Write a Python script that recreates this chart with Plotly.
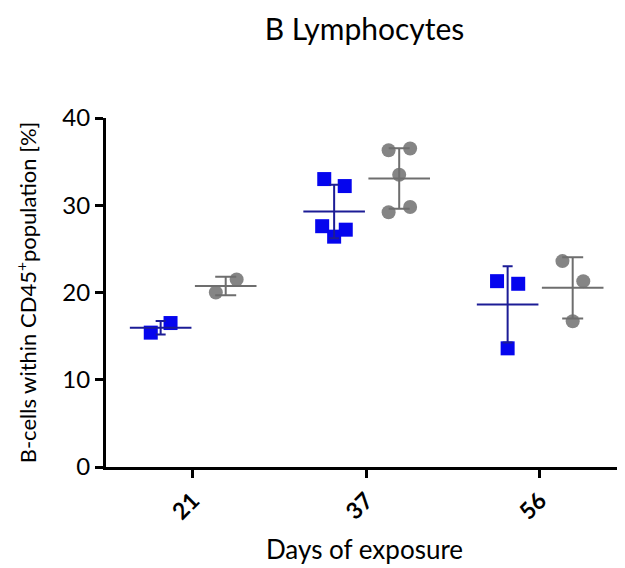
import numpy as np
import plotly.graph_objects as go

days = ["21", "37", "56"]
# group A (blue squares) values per day
blue_vals = [[15.4, 16.5], [33.0, 32.2, 27.6, 27.2, 26.4], [21.3, 21.0, 13.6]]
# group B (grey circles) values per day
grey_vals = [[20.0, 21.5], [36.3, 36.5, 33.5, 29.2, 29.8], [23.6, 21.3, 16.7]]
# horizontal scatter (jitter) of individual points within a group, in category units
blue_jitter = [[-0.057, 0.057], [-0.057, 0.061, -0.069, 0.067, 0.0], [-0.061, 0.061, 0.0]]
grey_jitter = [[-0.057, 0.063], [-0.061, 0.063, 0.0, -0.061, 0.063], [-0.059, 0.061, 0.0]]
group_offset = {"blue": -0.185, "grey": 0.19}

BLUE = "#0505ee"
BLUE_LINE = "#1c1c96"
GREY = "#858585"
GREY_LINE = "#6e6e6e"
FONT = "Lato"

fig = go.Figure()


def add_group(vals, jit, off, color, line_color, symbol, cap):
    xs, ys = [], []
    for i, (v, j) in enumerate(zip(vals, jit)):
        for vv, jj in zip(v, j):
            xs.append(i + off + jj)
            ys.append(vv)
    fig.add_trace(go.Scatter(x=xs, y=ys, mode="markers",
                             marker=dict(symbol=symbol, size=14, color=color, line=dict(width=0)),
                             showlegend=False, hoverinfo="y"))
    means = [float(np.mean(v)) for v in vals]
    sds = [float(np.std(v, ddof=1)) for v in vals]
    fig.add_trace(go.Scatter(x=[i + off for i in range(len(vals))], y=means, mode="markers",
                             marker=dict(symbol="line-ew", size=44, color=line_color,
                                         line=dict(width=2, color=line_color)),
                             error_y=dict(type="data", array=sds, visible=True, color=line_color,
                                          thickness=2, width=cap),
                             showlegend=False, hoverinfo="y"))


add_group(blue_vals, blue_jitter, group_offset["blue"], BLUE, BLUE_LINE, "square", 5)
add_group(grey_vals, grey_jitter, group_offset["grey"], GREY, GREY_LINE, "circle", 10.5)

fig.update_layout(
    width=617, height=560,
    margin=dict(l=98, r=2, t=110, b=101),
    paper_bgcolor="white", plot_bgcolor="white",
    font=dict(family=FONT, color="black", size=20),
    title=dict(text="B Lymphocytes", x=0.5, xref="paper", y=0.962, yref="container",
               xanchor="center", yanchor="middle", font=dict(size=30, family=FONT)),
    xaxis=dict(range=[-0.5, 2.48], tickmode="array", tickvals=[0, 1, 2], ticktext=days,
               tickangle=-45, ticks="outside", ticklen=8, tickwidth=3, tickcolor="black",
               showline=True, linewidth=3, linecolor="black", showgrid=False, zeroline=False,
               tickfont=dict(size=23, family=FONT, weight="bold"),
               title=dict(text="Days of exposure", font=dict(size=26), standoff=18)),
    yaxis=dict(range=[0, 40], tickvals=[0, 10, 20, 30, 40], ticks="outside", ticklen=8,
               tickwidth=3, tickcolor="black", showline=True, linewidth=3, linecolor="black",
               showgrid=False, zeroline=False, tickfont=dict(size=24),
               title=dict(text="B-cells within CD45<sup>+</sup>population [%]",
                          font=dict(size=22), standoff=20)),
)

fig.write_html("out.html")
